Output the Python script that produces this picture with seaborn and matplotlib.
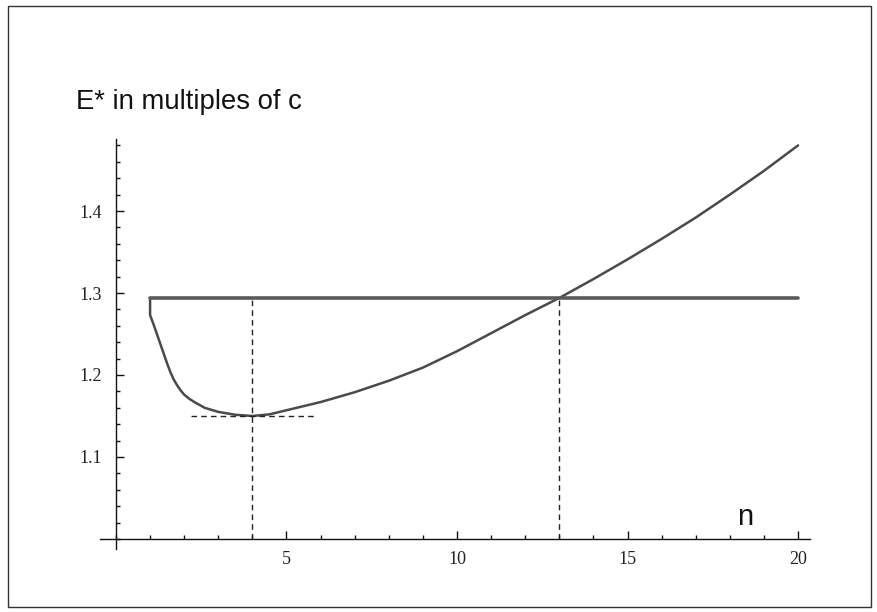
import numpy as np
import pandas as pd
import seaborn as sns
import matplotlib
matplotlib.use("Agg")
import matplotlib.pyplot as plt
from matplotlib.ticker import MultipleLocator, FixedLocator
from matplotlib.patches import Rectangle

# values
n_vals = [1.0, 1.0, 1.1, 1.2, 1.3, 1.4, 1.5, 1.6, 1.7, 1.8, 1.9, 2.0, 2.15, 2.3,
          2.6, 3.0, 3.5, 4.0, 4.5, 5.0, 6.0, 7.0, 8.0, 9.0, 10.0, 11.0, 12.0,
          13.0, 14.0, 15.0, 16.0, 17.0, 18.0, 19.0, 20.0]
e_vals = [1.294, 1.273, 1.262, 1.250, 1.238, 1.226, 1.214, 1.203, 1.194, 1.187,
          1.181, 1.176, 1.171, 1.167, 1.160, 1.155, 1.1515, 1.150, 1.152, 1.157,
          1.167, 1.179, 1.193, 1.209, 1.229, 1.251, 1.273, 1.294, 1.317, 1.341,
          1.366, 1.392, 1.420, 1.449, 1.480]
threshold = 1.294
thr_span = [1, 20]
n_opt = 4
n_cross = 13
e_min = 1.150
min_dash_span = [2.2, 5.8]
x_ticks = [5, 10, 15, 20]
y_ticks = [1.1, 1.2, 1.3, 1.4]

sns.set_style("white")

fig = plt.figure(figsize=(8.77, 6.12), dpi=100)
ax = fig.add_axes([0.1128, 0.0992, 0.8108, 0.6766])

df = pd.DataFrame({"n": n_vals, "E": e_vals})
sns.lineplot(data=df, x="n", y="E", ax=ax, estimator=None, sort=False,
             color="#4a4a4a", linewidth=1.8)
sns.lineplot(x=thr_span, y=[threshold, threshold], ax=ax, estimator=None,
             color="#5a5a5a", linewidth=2.6)

# dashed guides
ax.plot([n_opt, n_opt], [1.0, threshold], ls=(0, (4, 3)), color="#222222", lw=1)
ax.plot([n_cross, n_cross], [1.0, threshold], ls=(0, (4, 3)), color="#222222", lw=1)
ax.plot(min_dash_span, [e_min, e_min], ls=(0, (4, 3)), color="#222222", lw=1)

ax.set_xlim(-0.5, 20.35)
ax.set_ylim(0.985, 1.49)

# Mathematica-like axes through (0, 1)
for s in ["top", "right"]:
    ax.spines[s].set_visible(False)
ax.spines["left"].set_position(("data", 0))
ax.spines["bottom"].set_position(("data", 1.0))
ax.spines["left"].set_bounds(0.988, 1.488)
ax.spines["bottom"].set_bounds(-0.47, 20.35)
for s in ["left", "bottom"]:
    ax.spines[s].set_color("#111111")
    ax.spines[s].set_linewidth(1.0)

ax.xaxis.set_major_locator(FixedLocator(x_ticks))
ax.xaxis.set_minor_locator(MultipleLocator(1))
ax.yaxis.set_major_locator(FixedLocator(y_ticks))
ax.yaxis.set_minor_locator(MultipleLocator(0.02))
ax.set_xticklabels([str(t) for t in x_ticks])
ax.set_yticklabels([f"{t:.1f}" for t in y_ticks])
ax.tick_params(axis="both", which="both", bottom=True, left=True)
ax.tick_params(axis="both", which="major", direction="in", length=6, width=1,
               color="#111111", labelsize=13, labelcolor="#222222")
ax.tick_params(axis="both", which="minor", direction="in", length=3, width=1,
               color="#111111")
ax.tick_params(axis="x", which="major", pad=9)
ax.tick_params(axis="y", which="major", pad=10)
for lab in ax.get_xticklabels() + ax.get_yticklabels():
    lab.set_family("Liberation Serif")

ax.set_xlabel("")
ax.set_ylabel("")
ax.grid(False)

fig.text(76 / 877, 1 - 102 / 612, "E* in multiples of c", family="Liberation Sans",
         fontsize=19.8, va="center", ha="left", color="#111111")
ax.text(18.45, 1.027, "n", family="Liberation Sans", fontsize=21, ha="center",
        va="center", color="#111111")

# frame round the picture
fig.patches.append(Rectangle((8 / 877, 5 / 612), 863 / 877, 601 / 612,
                             transform=fig.transFigure, fill=False,
                             edgecolor="#333333", linewidth=1))

fig.savefig("out.png", dpi=100)
